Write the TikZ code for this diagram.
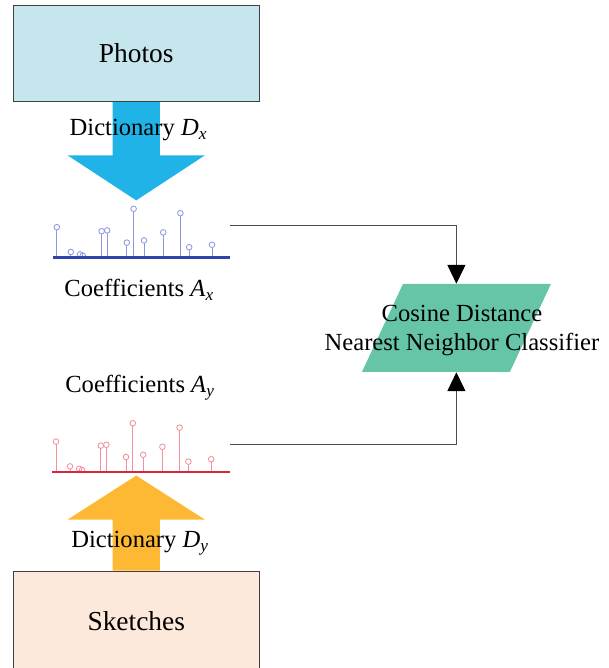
\documentclass[tikz,border=0pt]{standalone}
\usepackage{fontspec}
\setmainfont{Liberation Serif}
\usepackage{tikz}
\usetikzlibrary{shapes.geometric, arrows.meta, positioning, calc}
\definecolor{photofill}{HTML}{C6E6ED}
\definecolor{sketchfill}{HTML}{FDE9DB}
\definecolor{dxblue}{HTML}{1FB3E8}
\definecolor{dyorange}{HTML}{FDB933}
\definecolor{clsgreen}{HTML}{66C5A9}
\definecolor{axisblue}{HTML}{2F44A8}
\definecolor{stemblue}{HTML}{8E98DE}
\definecolor{axisred}{HTML}{D7263D}
\definecolor{stemred}{HTML}{F2919C}
\tikzstyle{source} = [rectangle, minimum width=6.14cm, minimum height=2.42cm, text centered, draw=black!75, line width=0.6pt, font=\fontsize{19.5}{23}\selectfont]
\tikzstyle{txt} = [inner sep=0pt, font=\fontsize{17.5}{20.6}\selectfont]
\tikzstyle{classifier} = [trapezium, trapezium left angle=65, trapezium right angle=115, inner xsep=1.3365cm, inner ysep=1.1cm, fill=clsgreen]
\tikzstyle{arrow} = [line width=0.6pt, draw=black!70, -{Triangle[length=0.47cm,width=0.45cm,color=black]}]
\tikzstyle{xaxis} = [axisblue, line width=2pt]
\tikzstyle{xstem} = [stemblue, line width=0.6pt]
\tikzstyle{yaxis} = [axisred, line width=2pt]
\tikzstyle{ystem} = [stemred, line width=0.6pt]

\begin{document}
\begin{tikzpicture}
    \useasboundingbox (0,0) rectangle (15.225,16.7);

    % Photos and sketches
    \node (photos) [source, fill=photofill] at (3.406,15.366) {Photos};
    \node (sketches) [source, fill=sketchfill, minimum height=2.5cm] at (3.406,1.175) {Sketches};

    % Dictionary arrows
    \fill[dxblue] ($(photos.south)+(-0.59,0)$) -- ++(1.18,0) -- ++(0,-1.33) -- ++(1.125,0) -- ++(-1.715,-1.125) -- ++(-1.715,1.125) -- ++(1.125,0) -- cycle;
    \fill[dyorange] ($(sketches.north)+(-0.59,0)$) -- ++(1.18,0) -- ++(0,1.275) -- ++(1.125,0) -- ++(-1.715,1.1) -- ++(-1.715,-1.1) -- ++(1.125,0) -- cycle;
    \node (dx) [txt] at (3.46,13.45) {Dictionary \textit{D}\textsubscript{\itshape x}};
    \node (dy) [txt] at (3.5,3.125) {Dictionary \textit{D}\textsubscript{\itshape y}};

    % Sparse coefficients
    \coordinate (xbase) at (1.32,10.26);
    \coordinate (ybase) at (1.30,4.90);
    \foreach \sx/\sh in {0.10/0.76, 0.45/0.14, 0.68/0.08, 0.75/0.05, 1.22/0.66, 1.36/0.68, 1.85/0.375, 2.02/1.22, 2.28/0.43, 2.76/0.63, 3.19/1.11, 3.41/0.26, 3.98/0.32} {
        \draw[xstem] ($(xbase)+(\sx,0)$) -- ++(0,\sh-0.07);
        \draw[xstem] ($(xbase)+(\sx,\sh)$) circle (0.07);
        \draw[ystem] ($(ybase)+(\sx,0)$) -- ++(0,\sh-0.07);
        \draw[ystem] ($(ybase)+(\sx,\sh)$) circle (0.07);
    }
    \draw[xaxis] (xbase) -- ++(4.43,0);
    \draw[yaxis] (ybase) -- ++(4.45,0);
    \node (ax) [txt] at (3.48,9.45) {Coefficients \textit{A}\textsubscript{\itshape x}};
    \node (ay) [txt] at (3.5,7.0) {Coefficients \textit{A}\textsubscript{\itshape y}};
    \coordinate (xout) at (5.75,11.075);
    \coordinate (yout) at (5.75,5.58);

    % Classifier
    \node (cls) [classifier] at (11.41,8.5) {};
    \node (clstext) [txt, align=center] at (11.55,8.44) {Cosine Distance\\Nearest Neighbor Classifier};

    % Arrows
    \draw [arrow] (xout) -| (cls.north);
    \draw [arrow] (yout) -| (cls.south);
\end{tikzpicture}
\end{document}
